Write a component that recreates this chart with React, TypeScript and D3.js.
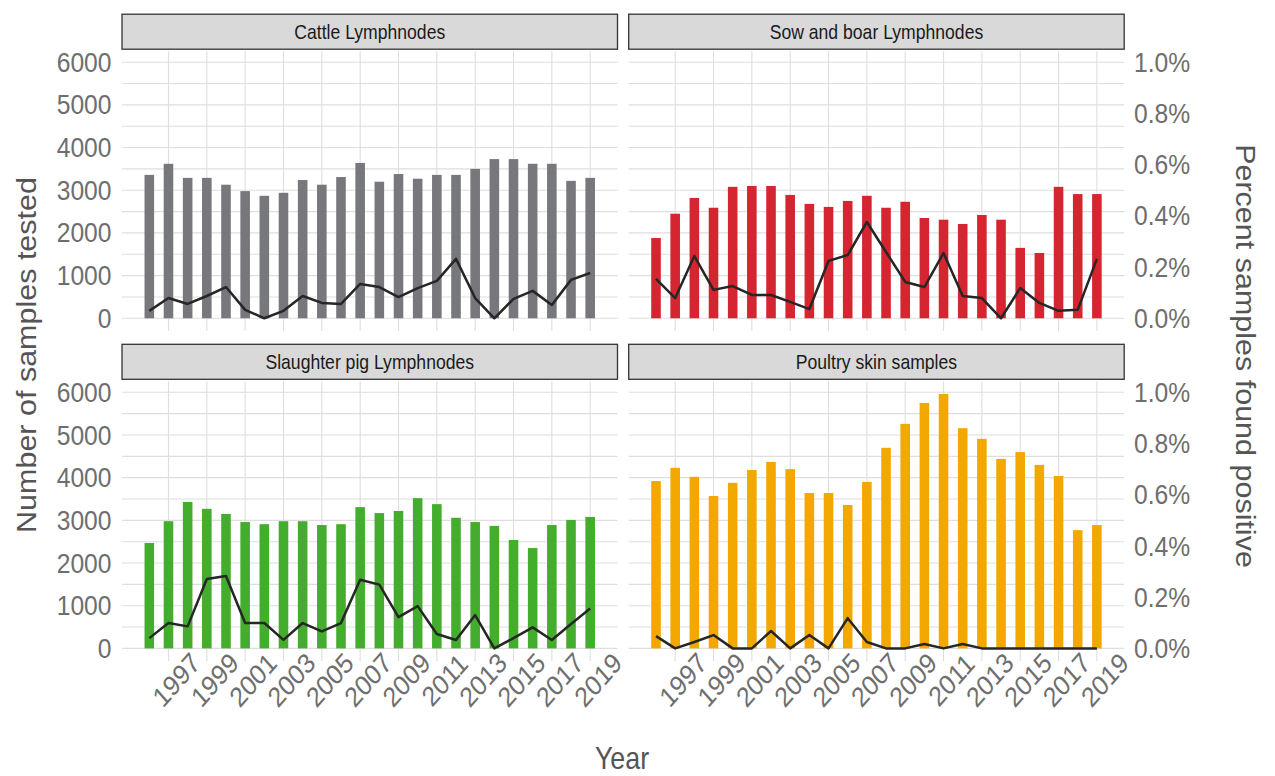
import React from "react";
import * as d3 from "d3";

const years = [1996, 1997, 1998, 1999, 2000, 2001, 2002, 2003, 2004, 2005, 2006, 2007, 2008, 2009, 2010, 2011, 2012, 2013, 2014, 2015, 2016, 2017, 2018, 2019];
const tickYears = [1997, 1999, 2001, 2003, 2005, 2007, 2009, 2011, 2013, 2015, 2017, 2019];
const countTicks = [0, 1000, 2000, 3000, 4000, 5000, 6000];
const countGrid = [0, 500, 1000, 1500, 2000, 2500, 3000, 3500, 4000, 4500, 5000, 5500, 6000];
const pctTicks = [0, 0.2, 0.4, 0.6, 0.8, 1.0];

const facetNames = ["Cattle Lymphnodes", "Sow and boar Lymphnodes", "Slaughter pig Lymphnodes", "Poultry skin samples"];
const facetColors = ["#77787b", "#d52530", "#44ad2d", "#f3a800"];

const cattleSamples = [3360, 3620, 3290, 3290, 3130, 2980, 2870, 2940, 3240, 3130, 3310, 3640, 3200, 3380, 3270, 3360, 3360, 3500, 3730, 3730, 3620, 3620, 3220, 3290];
const cattlePct = [0.029, 0.079, 0.056, 0.087, 0.122, 0.033, 0, 0.029, 0.087, 0.06, 0.056, 0.134, 0.122, 0.083, 0.118, 0.146, 0.232, 0.079, 0, 0.076, 0.107, 0.052, 0.15, 0.177];

const sowSamples = [1880, 2450, 2820, 2590, 3080, 3100, 3100, 2890, 2680, 2610, 2750, 2870, 2590, 2730, 2350, 2310, 2210, 2420, 2310, 1650, 1530, 3080, 2910, 2910];
const sowPct = [0.154, 0.079, 0.243, 0.111, 0.126, 0.091, 0.091, 0.064, 0.036, 0.224, 0.247, 0.376, 0.259, 0.142, 0.122, 0.255, 0.087, 0.079, 0, 0.118, 0.06, 0.029, 0.033, 0.232];

const pigSamples = [2470, 2980, 3430, 3270, 3150, 2960, 2910, 2980, 2980, 2890, 2910, 3310, 3170, 3220, 3520, 3380, 3060, 2960, 2870, 2540, 2350, 2890, 3010, 3080];
const pigPct = [0.04, 0.099, 0.086, 0.271, 0.283, 0.099, 0.099, 0.033, 0.099, 0.066, 0.099, 0.268, 0.249, 0.122, 0.165, 0.056, 0.033, 0.13, 0, 0.04, 0.082, 0.033, 0.095, 0.156];

const poultrySamples = [3920, 4230, 4020, 3570, 3880, 4180, 4370, 4200, 3640, 3640, 3360, 3900, 4700, 5260, 5750, 5960, 5160, 4910, 4440, 4600, 4300, 4040, 2770, 2890];
const poultryPct = [0.048, 0, 0.025, 0.052, 0, 0, 0.068, 0, 0.052, 0, 0.118, 0.025, 0, 0, 0.017, 0, 0.017, 0, 0, 0, 0, 0, 0, 0];

const sampleSeries = [cattleSamples, sowSamples, pigSamples, poultrySamples];
const pctSeries = [cattlePct, sowPct, pigPct, poultryPct];

// secondary axis: 1% corresponds to 6000 samples
const PCT_FACTOR = 6000;

const W = 1275;
const H = 776;
const SX = 0.88; // horizontal text compression
const FONT = "'Liberation Sans', Arial, Helvetica, sans-serif";
const panelLefts = [122, 628.7];
const panelTops = [51.2, 381.3];
const panelW = 495.5;
const panelH = 279.8;

function Txt(props: any) {
  const { x, y, rot = 0, anchor = "middle", baseline = "central", size, fill, children } = props;
  return (
    <g transform={`translate(${x},${y}) scale(${SX},1) rotate(${rot})`}>
      <text textAnchor={anchor} dominantBaseline={baseline} fontSize={size} fill={fill} fontFamily={FONT}>
        {children}
      </text>
    </g>
  );
}

function Panel({ idx }: { idx: number }) {
  const col = idx % 2;
  const row = Math.floor(idx / 2);
  const left = panelLefts[col];
  const top = panelTops[row];
  const yearMin = d3.min(years)! - 0.25;
  const yearMax = d3.max(years)! + 0.25;
  const xPad = (yearMax - yearMin) * 0.05;
  const x = d3.scaleLinear().domain([yearMin - xPad, yearMax + xPad]).range([left, left + panelW]);
  const allMax = d3.max(sampleSeries.flat())!;
  const y = d3.scaleLinear().domain([-allMax * 0.05, allMax * 1.05]).range([top + panelH, top]);
  const samples = sampleSeries[idx];
  const pct = pctSeries[idx];
  const bw = x(0.5) - x(0);
  const line = d3
    .line<number>()
    .x((_, i) => x(years[i]))
    .y((d) => y(d * PCT_FACTOR));

  return (
    <g>
      {/* strip */}
      <rect x={left} y={top - 37} width={panelW} height={35} fill="#d9d9d9" stroke="#333" strokeWidth={1.3} />
      <Txt x={left + panelW / 2} y={top - 19.5} size={20} fill="#1a1a1a">
        {facetNames[idx]}
      </Txt>
      {/* grid */}
      {countGrid.map((v) => (
        <line key={"h" + v} x1={left} x2={left + panelW} y1={y(v)} y2={y(v)} stroke="#dedede" strokeWidth={1.1} />
      ))}
      {tickYears.map((yr) => (
        <line key={"v" + yr} x1={x(yr)} x2={x(yr)} y1={top} y2={top + panelH} stroke="#dedede" strokeWidth={1.1} />
      ))}
      {/* bars */}
      {samples.map((v, i) => (
        <rect key={"b" + i} x={x(years[i]) - bw / 2} width={bw} y={y(v)} height={y(0) - y(v)} fill={facetColors[idx]} />
      ))}
      {/* line */}
      <path d={line(pct) || ""} fill="none" stroke="#262626" strokeWidth={2.5} strokeLinejoin="round" />
      {/* left axis */}
      {col === 0 &&
        countTicks.map((v) => (
          <Txt key={"l" + v} x={111.5} y={y(v)} anchor="end" size={28} fill="#6e6e6e">
            {String(v)}
          </Txt>
        ))}
      {/* right axis */}
      {col === 1 &&
        pctTicks.map((p) => (
          <Txt key={"r" + p} x={1134} y={y(p * PCT_FACTOR)} anchor="start" size={28} fill="#6e6e6e">
            {d3.format(".1f")(p) + "%"}
          </Txt>
        ))}
      {/* x axis labels */}
      {row === 1 &&
        tickYears.map((yr) => (
          <Txt key={"x" + yr} x={x(yr) + 8} y={680} rot={-45} size={28} fill="#6e6e6e">
            {String(yr)}
          </Txt>
        ))}
    </g>
  );
}

export default function App() {
  return (
    <svg width={W} height={H} style={{ position: "absolute", left: 0, top: 0, background: "#fff" }}>
      <rect x={0} y={0} width={W} height={H} fill="#fff" />
      {[0, 1, 2, 3].map((i) => (
        <Panel key={i} idx={i} />
      ))}
      <Txt x={35.5} y={355} rot={-90} anchor="middle" baseline="alphabetic" size={30.5} fill="#555">
        Number of samples tested
      </Txt>
      <Txt x={1236} y={356} rot={90} anchor="middle" baseline="alphabetic" size={30.5} fill="#555">
        Percent samples found positive
      </Txt>
      <Txt x={622} y={769} anchor="middle" baseline="alphabetic" size={30.5} fill="#555">
        Year
      </Txt>
    </svg>
  );
}
